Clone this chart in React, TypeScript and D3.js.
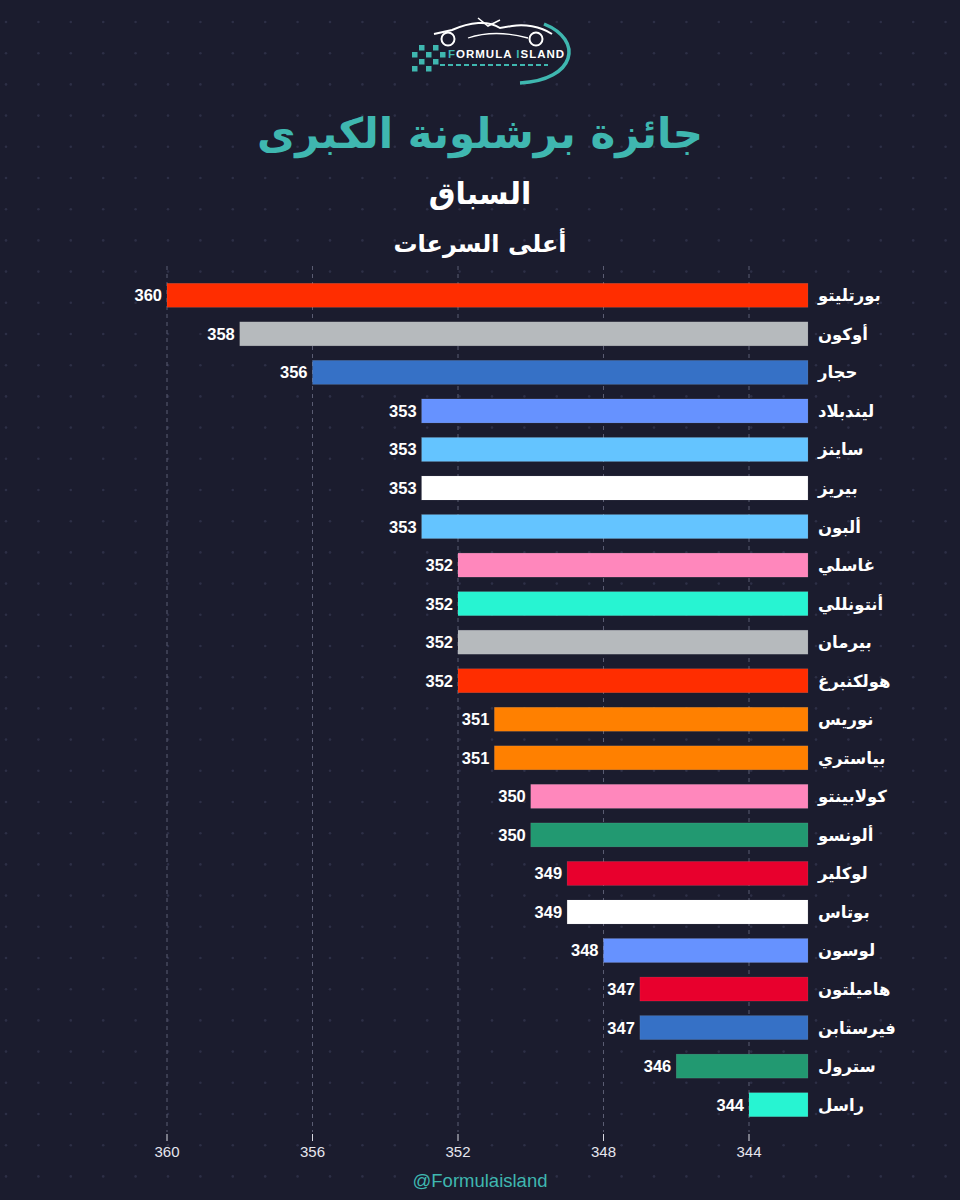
import React from "react";
import * as d3 from "d3";

// Top speeds in the race (km/h), fastest first
const drivers = [
  "بورتليتو", "أوكون", "حجار", "ليندبلاد", "ساينز", "بيريز", "ألبون",
  "غاسلي", "أنتونللي", "بيرمان", "هولكنبرغ", "نوريس", "بياستري",
  "كولابينتو", "ألونسو", "لوكلير", "بوتاس", "لوسون", "هاميلتون",
  "فيرستابن", "سترول", "راسل",
];
const speeds = [
  360, 358, 356, 353, 353, 353, 353, 352, 352, 352, 352, 351, 351,
  350, 350, 349, 349, 348, 347, 347, 346, 344,
];
const teamColors = [
  "#ff2d00", "#b6babd", "#3671c6", "#6692ff", "#64c4ff", "#ffffff", "#64c4ff",
  "#ff87bc", "#27f4d2", "#b6babd", "#ff2d00", "#ff8000", "#ff8000",
  "#ff87bc", "#229971", "#e8002d", "#ffffff", "#6692ff", "#e8002d",
  "#3671c6", "#229971", "#27f4d2",
];
const tickValues = [360, 356, 352, 348, 344];

const titleText = "جائزة برشلونة الكبرى";
const sessionText = "السباق";
const subtitleText = "أعلى السرعات";
const handleText = "@Formulaisland";

const W = 960;
const H = 1200;
const BG = "#1b1c2e";
const TEAL = "#3fb7b0";
const ARABIC = "'DejaVu Sans', sans-serif";
const LATIN = "'Liberation Sans', Arial, sans-serif";

export default function App() {
  const x = d3.scaleLinear().domain([360, 344]).range([167, 749]);
  const baseline = 342.38;
  const y = d3
    .scaleBand<string>()
    .domain(drivers)
    .range([276, 1124])
    .paddingInner(0.378)
    .paddingOuter(0.19);
  const bw = y.bandwidth();

  const dotsX = d3.range(6, W, 32.4);
  const dotsY = d3.range(22, H, 31.2);

  const checkers = [
    [412, 52], [419, 45], [426, 52], [419, 59], [426, 66], [433, 59],
    [433, 45], [440, 52], [412, 66],
  ];

  return (
    <svg
      width={W}
      height={H}
      style={{ position: "absolute", left: 0, top: 0, display: "block" }}
    >
      <rect width={W} height={H} fill={BG} />
      {/* dotted backdrop */}
      <g fill="#2d2f46">
        {dotsY.map((dy) =>
          dotsX.map((dx) => (
            <circle key={`${dx}-${dy}`} cx={dx} cy={dy} r={1.3} />
          ))
        )}
      </g>

      {/* logo */}
      <g>
        {checkers.map(([sx, sy], i) => (
          <rect key={i} x={sx} y={sy} width={5.5} height={5.5} fill={TEAL} />
        ))}
        {/* car silhouette */}
        <path
          d="M434 34 L452 30 C470 22, 488 20, 500 28 L512 26 C524 24, 540 26, 552 34"
          fill="none"
          stroke="#ffffff"
          strokeWidth={2}
        />
        <path
          d="M468 38 C486 32, 506 32, 528 38"
          fill="none"
          stroke="#ffffff"
          strokeWidth={1.3}
        />
        <path d="M478 18 L488 26 L500 20" fill="none" stroke="#ffffff" strokeWidth={1.5} />
        <circle cx={448} cy={39} r={6.5} fill="none" stroke="#ffffff" strokeWidth={2} />
        <circle cx={536} cy={39} r={6.5} fill="none" stroke="#ffffff" strokeWidth={2} />
        {/* swoosh */}
        <path
          d="M544 24 C584 40, 576 80, 520 83"
          fill="none"
          stroke={TEAL}
          strokeWidth={3.5}
        />
        <text
          x={448}
          y={58}
          fill="#ffffff"
          fontFamily={LATIN}
          fontWeight={900}
          fontSize={11.5}
          letterSpacing={1}
        >
          <tspan fill={TEAL}>F</tspan>ORMULA <tspan fill={TEAL}>I</tspan>SLAND
        </text>
        <line x1={440} x2={548} y1={65} y2={65} stroke={TEAL} strokeWidth={2} strokeDasharray="5 3" />
      </g>

      {/* titles */}
      <text
        x={480}
        y={148}
        textAnchor="middle"
        fill={TEAL}
        fontFamily={ARABIC}
        fontWeight={700}
        fontSize={42}
      >
        {titleText}
      </text>
      <text
        x={480}
        y={204}
        textAnchor="middle"
        fill="#ffffff"
        fontFamily={ARABIC}
        fontWeight={700}
        fontSize={30}
      >
        {sessionText}
      </text>
      <text
        x={480}
        y={252}
        textAnchor="middle"
        fill="#ffffff"
        fontFamily={ARABIC}
        fontWeight={700}
        fontSize={24}
      >
        {subtitleText}
      </text>

      {/* vertical dashed grid */}
      <g>
        {tickValues.map((t) => (
          <g key={t}>
            <line
              x1={x(t)}
              x2={x(t)}
              y1={266}
              y2={1132}
              stroke="#5a5c72"
              strokeWidth={1}
              strokeDasharray="4 4"
            />
            <line
              x1={x(t)}
              x2={x(t)}
              y1={1134}
              y2={1141}
              stroke="#d8d8e0"
              strokeWidth={1}
            />
            <text
              x={x(t)}
              y={1157}
              textAnchor="middle"
              fill="#e6e6ee"
              fontFamily={LATIN}
              fontSize={15}
            >
              {t}
            </text>
          </g>
        ))}
      </g>

      {/* bars */}
      <g>
        {drivers.map((d, i) => {
          const y0 = y(d) as number;
          const x0 = x(speeds[i]);
          const x1 = x(baseline);
          return (
            <g key={d}>
              <rect
                x={x0}
                y={y0}
                width={x1 - x0}
                height={bw}
                fill={teamColors[i]}
                stroke="rgba(255,255,255,0.15)"
                strokeWidth={0.6}
              />
              <text
                x={x0 - 5}
                y={y0 + bw / 2}
                dy="0.36em"
                textAnchor="end"
                fill="#ffffff"
                fontFamily={LATIN}
                fontWeight={700}
                fontSize={16.5}
              >
                {speeds[i]}
              </text>
              <text
                x={x1 + 10}
                y={y0 + bw / 2}
                dy="0.36em"
                textAnchor="start"
                fill="#ffffff"
                fontFamily={ARABIC}
                fontWeight={700}
                fontSize={16.5}
              >
                {d}
              </text>
            </g>
          );
        })}
      </g>

      {/* footer handle */}
      <text
        x={480}
        y={1187}
        textAnchor="middle"
        fill={TEAL}
        fontFamily={LATIN}
        fontSize={18.5}
      >
        {handleText}
      </text>
    </svg>
  );
}
